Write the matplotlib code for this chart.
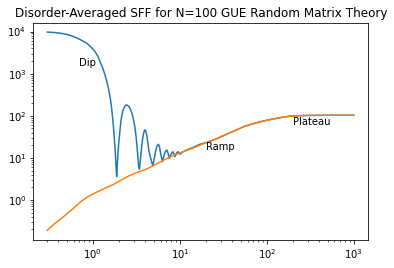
# sff_plot.py
# disorder-averaged spectral form factor, N=100 GUE
import numpy as np
import matplotlib.pyplot as plt

# ==== data ====
# full SFF: slope, dip with oscillations, then ramp and plateau
t_sff = [0.30, 0.36, 0.42, 0.50, 0.60, 0.70, 0.85, 0.95, 1.06, 1.14,
         1.21, 1.30, 1.38, 1.45, 1.51, 1.56, 1.61, 1.64, 1.67, 1.72,
         1.76, 1.81, 1.85, 1.88, 1.91, 1.95, 1.99, 2.02, 2.07, 2.11,
         2.15, 2.22, 2.30, 2.41, 2.50, 2.60, 2.73, 2.82, 2.90, 2.98,
         3.06, 3.14, 3.22, 3.30, 3.36, 3.43, 3.50, 3.58, 3.66, 3.75,
         3.85, 3.95, 4.05, 4.17, 4.30, 4.43, 4.56, 4.75, 4.89, 5.05,
         5.25, 5.45, 5.68, 5.85, 6.05, 6.31, 6.55, 6.80, 7.09, 7.35,
         7.60, 7.95, 8.30, 8.55, 8.80, 9.15, 9.50, 9.80, 10.1, 10.6,
         11.0, 12.0, 14.0, 17.0, 20, 25, 32, 38, 46, 54,
         65, 84, 105, 130, 160, 185, 250, 315, 500, 700,
         1000]
sff = [9700, 9500, 9150, 8600, 7600, 6600, 5300, 4300, 3350, 2600,
       1950, 1350, 930, 650, 450, 320, 216, 160, 109, 60,
       32, 14, 6.2, 3.6, 7.0, 14, 24, 32, 55, 78,
       100, 135, 160, 180, 178, 165, 137, 112, 90, 68,
       50, 32, 19, 10, 6.5, 5.4, 8.0, 13, 20, 30,
       40, 46, 44, 34, 22, 14, 11, 8.0, 6.5, 9.0,
       14, 19, 21, 18, 12, 8.1, 11, 14, 15.4, 12.5,
       9.8, 12.5, 14.0, 12.5, 10.7, 13.0, 14.0, 13.0, 12.2, 13.5,
       14.0, 15.4, 17.5, 21, 23, 27, 34, 40, 47, 55,
       62, 72, 80, 87, 94, 98, 101, 102, 103, 103,
       103]

# connected SFF: ramp and plateau
t_conn = [0.30, 0.36, 0.46, 0.58, 0.72, 0.85, 1.0, 1.3, 1.7, 2.2,
          2.7, 3.4, 4.2, 5.0, 6.5, 8.0, 10, 13, 16, 20,
          25, 32, 38, 46, 54, 65, 84, 105, 130, 160,
          185, 250, 315, 500, 700, 1000]
conn = [0.19, 0.27, 0.40, 0.60, 0.90, 1.15, 1.38, 1.8, 2.3, 3.1,
        3.9, 4.7, 5.5, 6.6, 8.8, 10.8, 13, 16, 19, 23,
        27, 34, 40, 47, 55, 62, 72, 80, 87, 94,
        98, 101, 102, 103, 103, 103]

# text labels: (t, value, text)
labels = [(0.7, 1500, 'Dip'), (20, 15, 'Ramp'), (200, 60, 'Plateau')]

# ==== plotting ====
fig = plt.figure(figsize=(394/72, 268/72), dpi=72)
ax = fig.add_axes([0.0846, 0.1045, 0.8503, 0.8085])

ax.plot(t_sff, sff)
ax.plot(t_conn, conn)
for tx, vy, s in labels:
    ax.text(tx, vy, s)

ax.set_xscale('log')
ax.set_yscale('log')
ax.set_xlim(0.207, 1470)
ax.set_ylim(0.112, 15700)
ax.set_title('Disorder-Averaged SFF for N=100 GUE Random Matrix Theory')

fig.savefig('out.png', dpi=72)
